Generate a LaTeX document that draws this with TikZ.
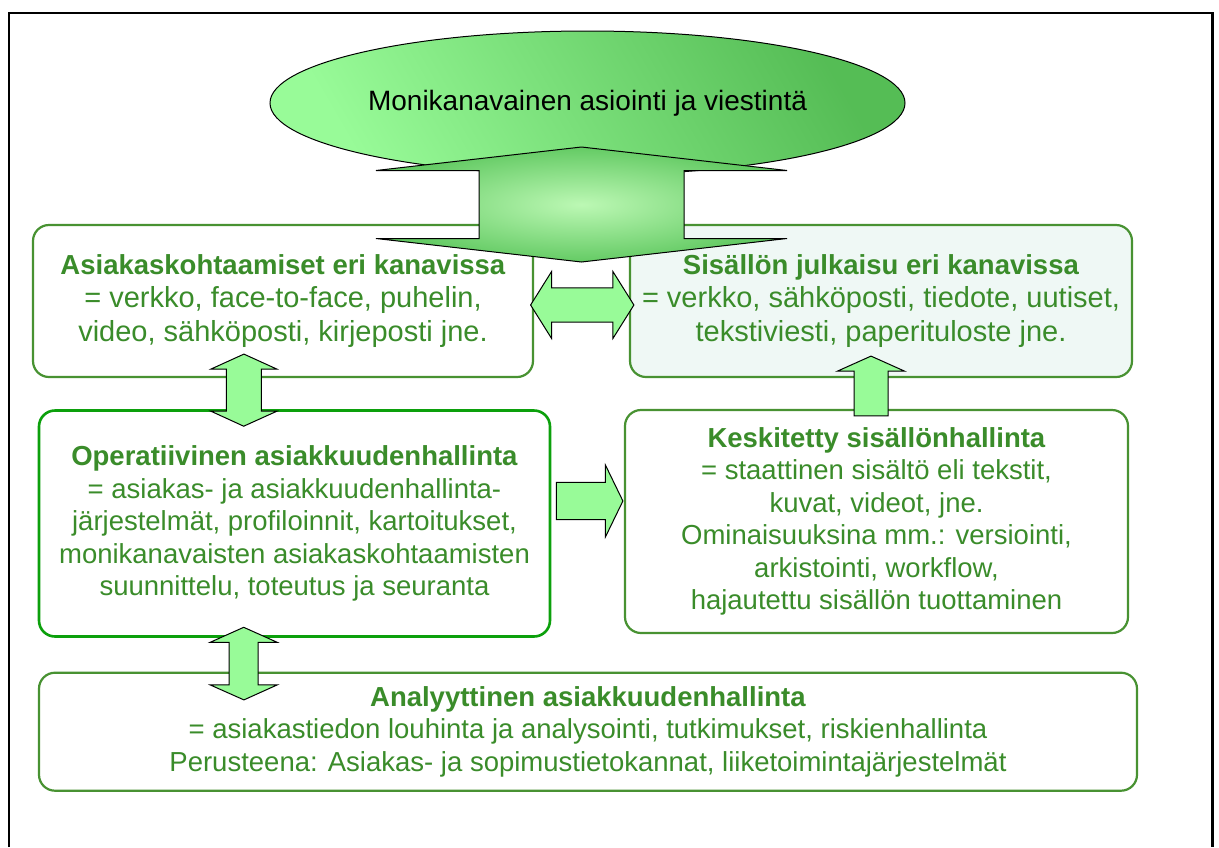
\documentclass[tikz,border=0pt]{standalone}
\usepackage{fontspec}
\setmainfont{Liberation Sans}
\usetikzlibrary{calc, shapes.geometric}
\definecolor{colText}{RGB}{58, 140, 42}
\definecolor{colEdge}{RGB}{72, 146, 50}
\definecolor{colEdgeOp}{RGB}{12, 160, 12}
\definecolor{colMint}{RGB}{239, 248, 245}
\definecolor{colArrow}{RGB}{152, 251, 152}
\definecolor{colLight}{RGB}{188, 248, 180}
\definecolor{colDark}{RGB}{78, 182, 78}

\newcommand{\boxfont}{\fontsize{27.5}{32.5}\selectfont}
\newcommand{\bigfont}{\fontsize{29}{33.5}\selectfont}

% block arrows: [style]{tip/tail}{tip}{head half width}{shaft half width}{head length}
\newcommand{\dblvert}[6][]{%
  \draw[blockarrow,#1] let \p1=(#2), \p2=(#3) in
    (\p1) -- (\x1+#4,\y1-#6) -- (\x1+#5,\y1-#6) -- (\x1+#5,\y2+#6) -- (\x1+#4,\y2+#6)
    -- (\p2) -- (\x1-#4,\y2+#6) -- (\x1-#5,\y2+#6) -- (\x1-#5,\y1-#6) -- (\x1-#4,\y1-#6) -- cycle;}
\newcommand{\dblhorz}[6][]{%
  \draw[blockarrow,#1] let \p1=(#2), \p2=(#3) in
    (\p1) -- (\x1+#6,\y1+#4) -- (\x1+#6,\y1+#5) -- (\x2-#6,\y1+#5) -- (\x2-#6,\y1+#4)
    -- (\p2) -- (\x2-#6,\y1-#4) -- (\x2-#6,\y1-#5) -- (\x1+#6,\y1-#5) -- (\x1+#6,\y1-#4) -- cycle;}
\newcommand{\sglright}[6][]{%
  \draw[blockarrow,#1] let \p1=(#2), \p2=(#3) in
    (\x1,\y1+#5) -- (\x2-#6,\y1+#5) -- (\x2-#6,\y1+#4) -- (\p2) -- (\x2-#6,\y1-#4)
    -- (\x2-#6,\y1-#5) -- (\x1,\y1-#5) -- cycle;}
\newcommand{\sglup}[6][]{%
  \draw[blockarrow,#1] let \p1=(#2), \p2=(#3) in
    (\x1-#5,\y1) -- (\x1-#5,\y2-#6) -- (\x1-#4,\y2-#6) -- (\p2) -- (\x1+#4,\y2-#6)
    -- (\x1+#5,\y2-#6) -- (\x1+#5,\y1) -- cycle;}

\begin{document}
\begin{tikzpicture}[x=1pt, y=1pt, every node/.style={font=\boxfont},
    box/.style={draw=colEdge, line width=2.2pt, rounded corners=16pt, fill=white,
        text=colText, align=center, inner sep=0pt},
    blockarrow/.style={draw=black, line width=1pt, fill=colArrow, line join=miter}]
    \useasboundingbox (0,0) rectangle (1219,-847);
    % --- Kehys ---
    \draw[line width=2.7pt] (9,-847) -- (9,-13) -- (1212.5,-13) -- (1212.5,-847);

    % --- Laatikot ---
    \node[box, font=\bigfont, minimum width=500pt, minimum height=152pt] (asiakas) at (283,-301)
        {\textbf{\boxfont Asiakaskohtaamiset eri kanavissa}\\= verkko, face-to-face, puhelin,\\video, sähköposti, kirjeposti jne.};
    \node[box, font=\bigfont, fill=colMint, minimum width=502pt, minimum height=152pt] (julkaisu) at (881,-301)
        {\textbf{\boxfont Sisällön julkaisu eri kanavissa}\\= verkko, sähköposti, tiedote, uutiset,\\tekstiviesti, paperituloste jne.};
    \node[box, draw=colEdgeOp, line width=2.6pt, minimum width=511pt, minimum height=226pt] (opera) at (294.5,-523.5)
        {\textbf{Operatiivinen asiakkuudenhallinta}\\= asiakas- ja asiakkuudenhallinta-\\järjestelmät, profiloinnit, kartoitukset,\\monikanavaisten asiakaskohtaamisten\\suunnittelu, toteutus ja seuranta};
    \node[box, minimum width=503pt, minimum height=223pt] (keskitetty) at (876.5,-521.5)
        {\textbf{Keskitetty sisällönhallinta}\\= staattinen sisältö eli tekstit,\\kuvat, videot, jne.\\Ominaisuuksina mm.: versiointi,\\arkistointi, workflow,\\hajautettu sisällön tuottaminen};
    \node[box, minimum width=1098pt, minimum height=118pt] (analyt) at (588,-731.7)
        {\textbf{Analyyttinen asiakkuudenhallinta}\\= asiakastiedon louhinta ja analysointi, tutkimukset, riskienhallinta\\Perusteena: Asiakas- ja sopimustietokannat, liiketoimintajärjestelmät};

    % --- Ellipsi ---
    \node[ellipse, draw=black, line width=1pt, minimum width=635pt, minimum height=144pt, font=\fontsize{28}{33}\selectfont,
        top color=colDark!90!colArrow, middle color=colArrow, bottom color=colArrow, shading angle=-60] (kanava) at (587.5,-103)
        {Monikanavainen asiointi ja viestintä};

    % --- Nuolet ---
    \dblvert[inner color=colLight, outer color=colDark!70!colArrow]{$(kanava.center)+(-6,-44)$}{$(kanava.center)+(-6,-159)$}{205.5pt}{102.5pt}{23.5pt}
    \dblhorz{$(asiakas.east)+(-3.5,-4)$}{$(julkaisu.west)+(5,-4)$}{33.5pt}{17.2pt}{21pt}
    \dblvert{$(asiakas.south west)+(212,24)$}{$(opera.north west)+(206,-17)$}{33pt}{17.5pt}{15pt}
    \dblvert{$(opera.south west)+(206,10.5)$}{$(analyt.north west)+(206,-28.3)$}{33.5pt}{14.5pt}{15pt}
    \sglright{$(opera.east)+(5,22.5)$}{$(keskitetty.west)+(-1,20.5)$}{36pt}{18.6pt}{17.5pt}
    \sglup{$(keskitetty.north)+(-5.5,-7)$}{$(julkaisu.south)+(-10,22)$}{33.5pt}{17pt}{15pt}
\end{tikzpicture}
\end{document}
